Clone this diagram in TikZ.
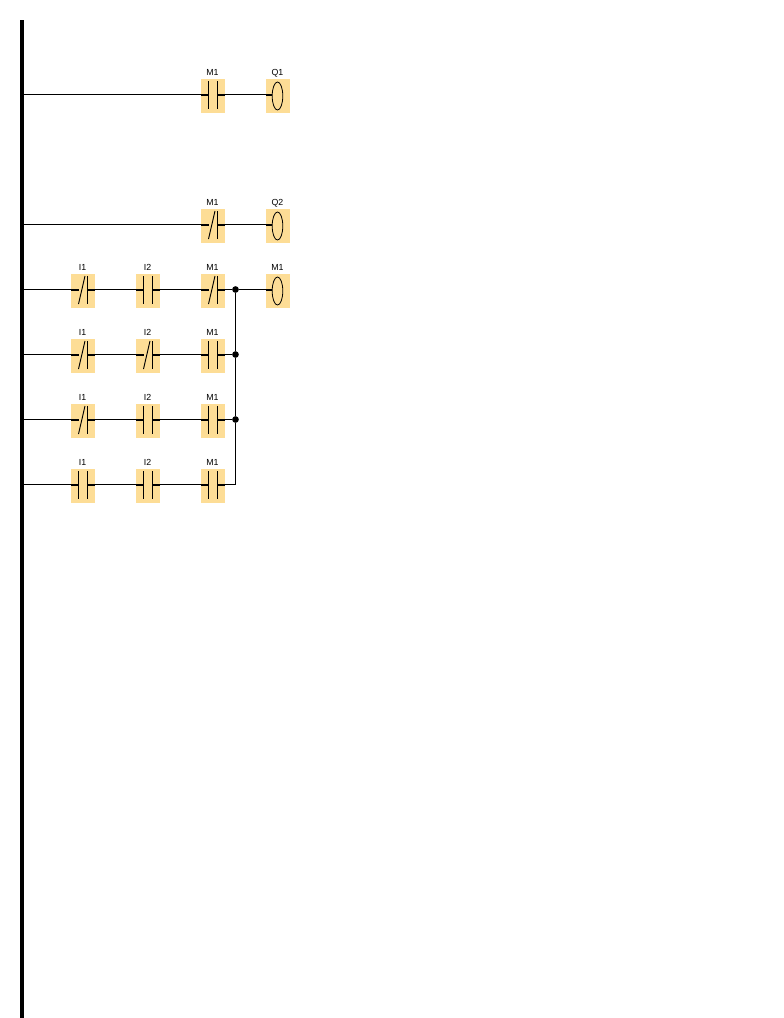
\documentclass[tikz,border=0pt]{standalone}
\usepackage{fontspec}
\setmainfont{Liberation Sans}
\definecolor{boxfill}{HTML}{FDDD96}
\tikzset{
  wire/.style={line width=0.75pt,black},
  stub/.style={line width=1.5pt,black},
  bar/.style={line width=0.7pt,black},
  elbox/.style={fill=boxfill,draw=none,minimum width=18pt,minimum height=25.5pt,inner sep=0pt,outer sep=0pt},
  lab/.style={font=\fontsize{6.6}{7.5}\selectfont,inner sep=0pt,text=black},
  dot/.style={circle,fill=black,minimum size=5pt,inner sep=0pt,outer sep=0pt}
}
% #1 name, #2 x, #3 wire y, #4 label
\newcommand{\elbody}[4]{%
  \node[elbox] (#1) at (#2+12,#3+2) {};
  \node[lab,anchor=base] (#1t) at (#2+11.5,#3-18.5) {#4};
  \coordinate (#1l) at (#2,#3+0.5);
  \coordinate (#1r) at (#2+24,#3+0.5);
}
\newcommand{\nocontact}[4]{\elbody{#1}{#2}{#3}{#4}
  \draw[stub] (#1l) -- ++(7.5,0);
  \draw[stub] (#1r) -- ++(-7.5,0);
  \draw[bar] (#2+7.5,#3-13) -- (#2+7.5,#3+15);
  \draw[bar] (#2+16.5,#3-13) -- (#2+16.5,#3+15);
}
\newcommand{\nccontact}[4]{\elbody{#1}{#2}{#3}{#4}
  \draw[stub] (#1l) -- ++(7.5,0);
  \draw[stub] (#1r) -- ++(-7.5,0);
  \draw[bar] (#2+7.5,#3+15) -- (#2+14,#3-13);
  \draw[bar] (#2+16.5,#3-13) -- (#2+16.5,#3+15);
}
\newcommand{\coil}[4]{\elbody{#1}{#2}{#3}{#4}
  \draw[stub] (#1l) -- ++(6,0);
  \draw[bar,line width=0.6pt] (#2+11.5,#3+2) ellipse [x radius=5.3,y radius=14];
}
\begin{document}
\begin{tikzpicture}[x=0.75pt,y=-0.75pt]
\useasboundingbox (0,0) rectangle (783,1018);
\coordinate (railtop) at (22,20);
\coordinate (railbot) at (22,1018);
\draw[line width=3pt,black] (railtop) -- (railbot);
\foreach \n/\y in {a/94.5,b/224.5,c/289.5,d/354.5,e/419.5,f/484.5}{\coordinate (r\n) at (22,\y);}
% row 1
\nocontact{am}{201}{94}{M1}
\coil{aq}{266}{94}{Q1}
\draw[wire] (ra) -- (aml);
\draw[wire] (amr) -- (aql);
% row 2
\nccontact{bm}{201}{224}{M1}
\coil{bq}{266}{224}{Q2}
\draw[wire] (rb) -- (bml);
\draw[wire] (bmr) -- (bql);
% row 3
\nccontact{ci}{71}{289}{I1}
\nocontact{cj}{136}{289}{I2}
\nccontact{cm}{201}{289}{M1}
\coil{cq}{266}{289}{M1}
\node[dot] (jc) at (235.5,289.5) {};
\draw[wire] (rc) -- (cil);
\draw[wire] (cir) -- (cjl);
\draw[wire] (cjr) -- (cml);
\draw[wire] (cmr) -- (jc);
\draw[wire] (jc) -- (cql);
% row 4
\nccontact{di}{71}{354}{I1}
\nccontact{dj}{136}{354}{I2}
\nocontact{dm}{201}{354}{M1}
\node[dot] (jd) at (235.5,354.5) {};
\draw[wire] (rd) -- (dil);
\draw[wire] (dir) -- (djl);
\draw[wire] (djr) -- (dml);
\draw[wire] (dmr) -- (jd);
% row 5
\nccontact{ei}{71}{419}{I1}
\nocontact{ej}{136}{419}{I2}
\nocontact{em}{201}{419}{M1}
\node[dot] (je) at (235.5,419.5) {};
\draw[wire] (re) -- (eil);
\draw[wire] (eir) -- (ejl);
\draw[wire] (ejr) -- (eml);
\draw[wire] (emr) -- (je);
% row 6
\nocontact{fi}{71}{484}{I1}
\nocontact{fj}{136}{484}{I2}
\nocontact{fm}{201}{484}{M1}
\coordinate (jf) at (235.5,484.5);
\draw[wire] (rf) -- (fil);
\draw[wire] (fir) -- (fjl);
\draw[wire] (fjr) -- (fml);
% bus
\draw[wire] (fmr) -- (jf) -- (je);
\draw[wire] (je) -- (jd);
\draw[wire] (jd) -- (jc);
\end{tikzpicture}
\end{document}
